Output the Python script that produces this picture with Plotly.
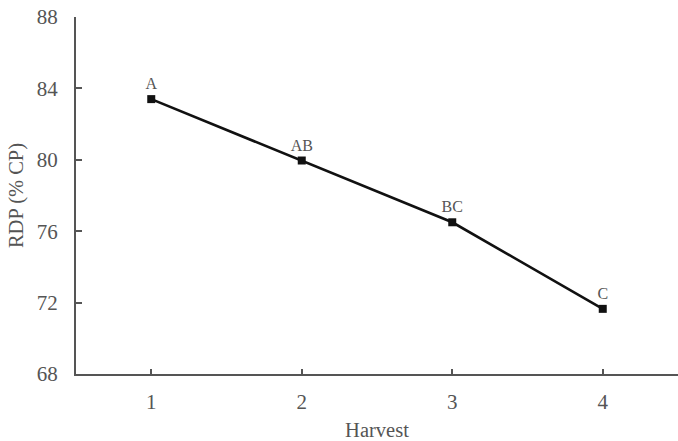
import plotly.graph_objects as go

harvest = [1, 2, 3, 4]
rdp = [83.4, 79.96, 76.5, 71.65]
letters = ["A", "AB", "BC", "C"]
y_ticks = [68, 72, 76, 80, 84, 88]

fig = go.Figure()
fig.add_trace(go.Scatter(
    x=harvest, y=rdp, mode="lines+markers+text",
    text=letters, textposition="top center",
    textfont=dict(family="Liberation Serif", size=16, color="#555555"),
    line=dict(color="#111111", width=2.6),
    marker=dict(symbol="square", size=8, color="#111111"),
    cliponaxis=False, showlegend=False,
))

fig.update_layout(
    width=678, height=441,
    margin=dict(l=76, r=0, t=17, b=67),
    plot_bgcolor="white", paper_bgcolor="white",
    font=dict(family="Liberation Serif", color="#555555", size=20),
)
fig.update_xaxes(
    range=[0.5, 4.5], tickvals=harvest, ticktext=[str(h) for h in harvest],
    showline=True, linecolor="#555555", linewidth=2,
    ticks="inside", ticklen=5, tickcolor="#555555", tickwidth=1.5,
    showgrid=False, zeroline=False, ticklabelstandoff=8,
    title=dict(text="Harvest", font=dict(size=20.5), standoff=12),
    tickfont=dict(size=21),
)
fig.update_yaxes(
    range=[68, 88], tickvals=y_ticks,
    showline=True, linecolor="#555555", linewidth=2,
    ticks="inside", ticklen=6, tickcolor="#555555", tickwidth=1.5,
    showgrid=False, zeroline=False, ticklabelstandoff=12,
    title=dict(text="RDP (% CP)", font=dict(size=20.5), standoff=8),
    tickfont=dict(size=21),
)
fig.write_html(
    "out.html",
    config={"displayModeBar": False},
    post_script="document.body.style.margin='0';document.body.style.overflow='hidden';",
)
